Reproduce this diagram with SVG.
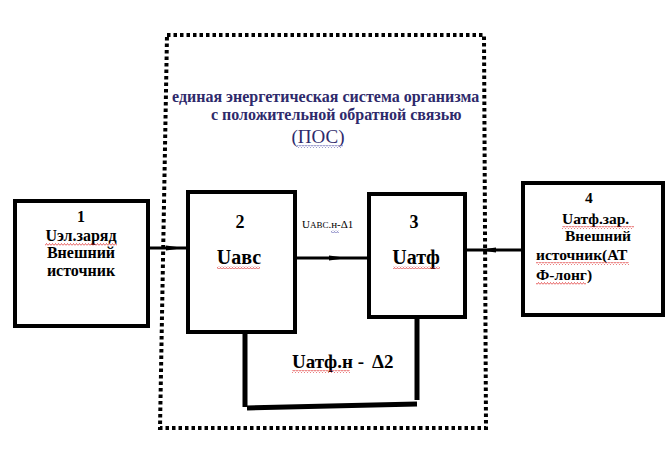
<svg xmlns="http://www.w3.org/2000/svg" width="668" height="452" viewBox="0 0 668 452">
<defs>
<pattern id="sq" width="3" height="3" patternUnits="userSpaceOnUse"><path d="M0 2.5 L1.5 0.5 L3 2.5" fill="none" stroke="#d22" stroke-width="0.7"/></pattern>
<pattern id="sqb" width="3" height="3" patternUnits="userSpaceOnUse"><path d="M0 2.5 L1.5 0.5 L3 2.5" fill="none" stroke="#55a" stroke-width="0.7"/></pattern>
</defs>
<style>
.box{fill:#fff;stroke:#000;stroke-width:4}
.t{font-family:"Liberation Serif","Times New Roman",serif;font-weight:bold;fill:#000}
.ti{font-family:"Liberation Serif","Times New Roman",serif;font-weight:bold;fill:#2e2a6b;font-size:16px}
.ln{fill:none;stroke:#000;stroke-width:3}
.fb{fill:none;stroke:#000;stroke-width:5}
.sq{fill:url(#sq)}
</style>
<rect width="668" height="452" fill="#fff"/>
<g id="system">
<path d="M167 35 L484 35 L486 428 L160 428 Z" fill="none" stroke="#000" stroke-width="4" stroke-dasharray="3.5 3"/>
<text class="ti" x="172" y="102">единая энергетическая система организма</text>
<text class="ti" x="211" y="120">с положительной обратной связью</text>
<text x="318" y="143" text-anchor="middle" font-family="Liberation Serif, serif" font-size="19" fill="#2e2a6b">(ПОС)</text>
<rect x="297" y="145" width="46" height="3" fill="url(#sqb)"/>
</g>
<g id="connectors">
<line class="ln" x1="148" y1="248" x2="188" y2="248"/>
<path d="M166 245.5 L184 248 L166 250.5 Z" fill="#000"/>
<line class="ln" x1="295" y1="258" x2="369" y2="258"/>
<path d="M329 255.5 L347 258 L329 260.5 Z" fill="#000"/>
<line class="ln" x1="465" y1="250" x2="523" y2="250"/>
<path d="M496 247.5 L478 250 L496 252.5 Z" fill="#000"/>
<path class="fb" d="M245 332 L245 407"/>
<path class="fb" d="M247 408 L417 404"/>
<path class="fb" d="M417 317 L417 400"/>
<text x="302" y="228" font-family="Liberation Serif, serif" font-size="11" fill="#000">U<tspan font-size="9">АВС</tspan>.н-Δ1</text>
<rect x="331" y="230" width="8" height="3" fill="url(#sqb)"/>
<text class="t" x="292" y="368" font-size="19">Uатф.н -<tspan x="372">Δ2</tspan></text>
<rect x="292" y="370" width="58" height="3" class="sq"/>
</g>
<g id="n1">
<rect class="box" x="15" y="201" width="133" height="125"/>
<text class="t" font-size="16" text-anchor="middle"><tspan x="81" y="222">1</tspan><tspan x="81" y="241">Uэл.заряд</tspan><tspan x="81" y="258">Внешний</tspan><tspan x="81" y="276">источник</tspan></text>
<rect x="45" y="243" width="72" height="3" class="sq"/>
</g>
<g id="n2">
<rect class="box" x="188" y="192" width="107" height="140"/>
<text class="t" x="240" y="228" font-size="18" text-anchor="middle">2</text>
<text class="t" x="239" y="264" font-size="20" text-anchor="middle">Uавс</text>
<rect x="217" y="266" width="43" height="3" class="sq"/>
</g>
<g id="n3">
<rect class="box" x="369" y="194" width="96" height="123"/>
<text class="t" x="414" y="228" font-size="18" text-anchor="middle">3</text>
<text class="t" x="416" y="264" font-size="20" text-anchor="middle">Uатф</text>
<rect x="393" y="266" width="47" height="3" class="sq"/>
</g>
<g id="n4">
<rect class="box" x="523" y="183" width="140" height="132"/>
<text class="t" font-size="15.5"><tspan x="585" y="203">4</tspan><tspan x="562" y="224">Uатф.зар.</tspan><tspan x="565" y="241">Внешний</tspan><tspan x="536" y="260">источник(АТ</tspan><tspan x="536" y="280">Ф-лонг)</tspan></text>
<rect x="562" y="226" width="72" height="3" class="sq"/>
<rect x="536" y="262" width="93" height="3" class="sq"/>
<rect x="536" y="282" width="50" height="3" class="sq"/>
</g>
</svg>
